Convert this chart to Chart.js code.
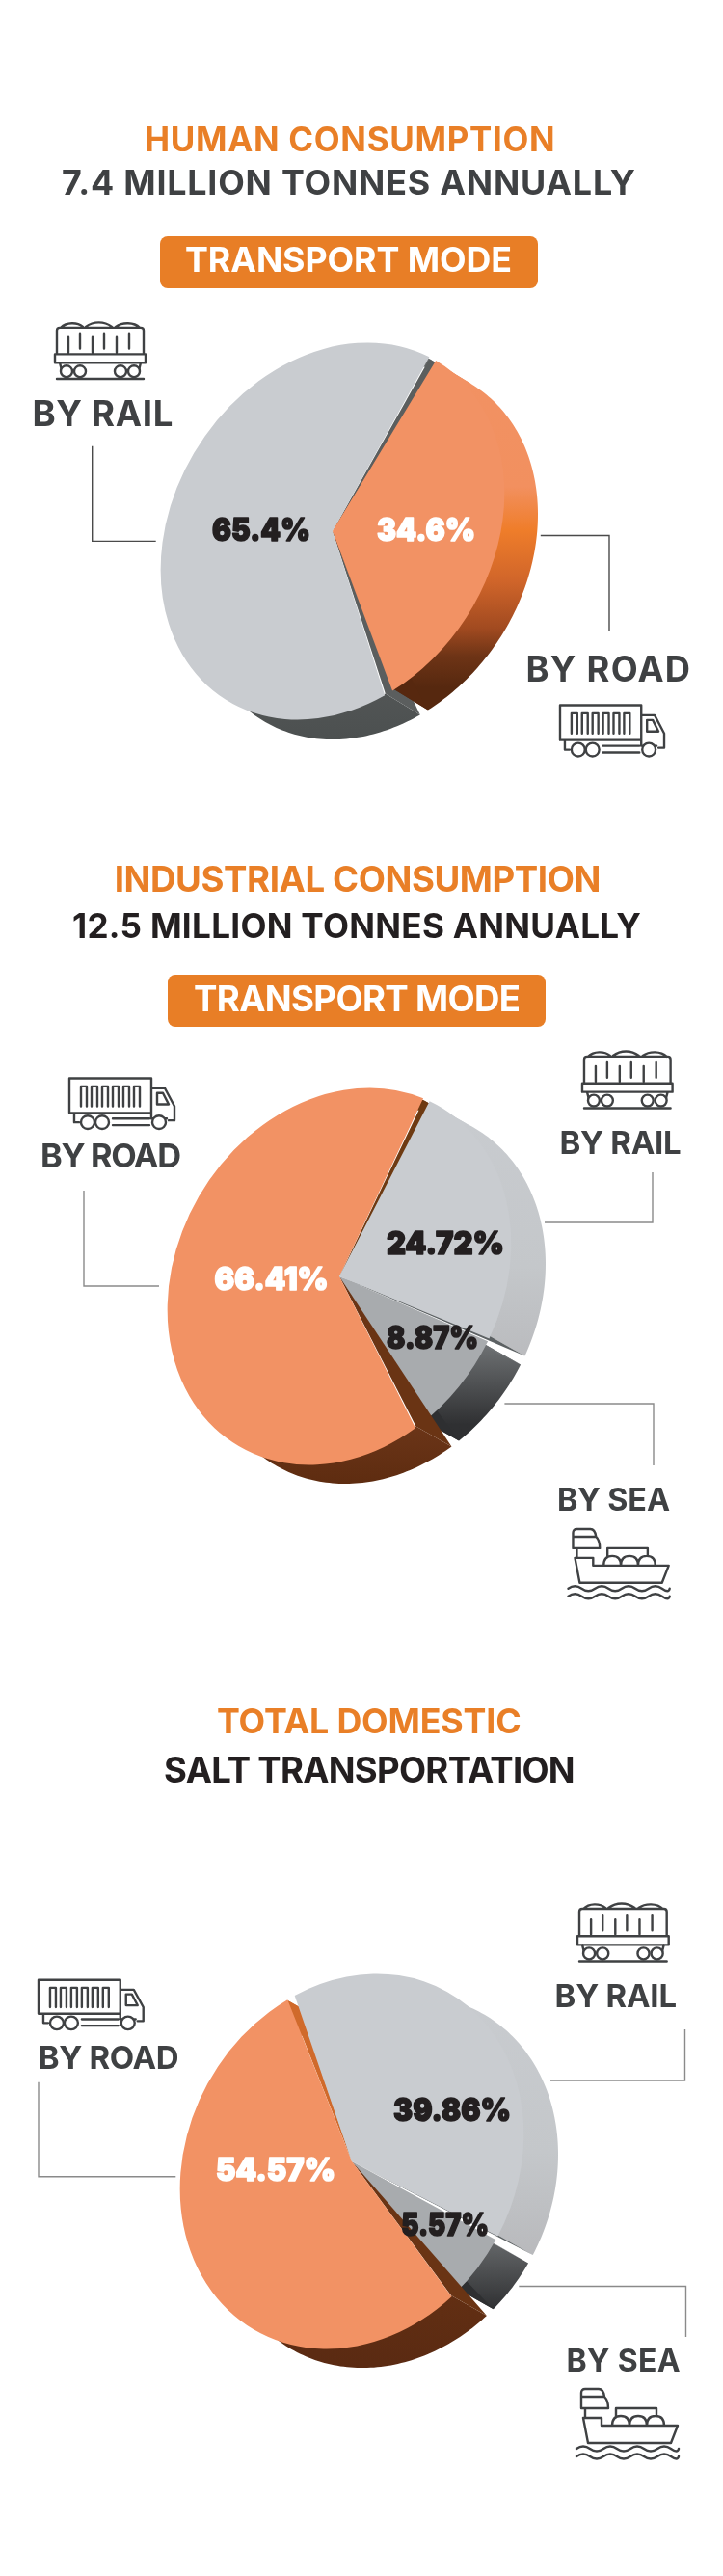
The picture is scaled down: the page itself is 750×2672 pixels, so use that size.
<!DOCTYPE html>
<html><head><meta charset="utf-8">
<script src="https://cdn.jsdelivr.net/npm/chart.js@4"></script>
<style>
html,body{margin:0;padding:0;background:#fff}
#page{position:relative;width:750px;height:2672px;overflow:hidden;background:#fff}
#page canvas{position:absolute}
#overlay{position:absolute;left:0;top:0}
</style></head><body>
<div id="page"></div>
<script>
// ---- data ----
const humanCategories = ['BY ROAD', 'BY RAIL'];
const humanValues = [34.6, 65.4];
const industrialCategories = ['BY RAIL', 'BY SEA', 'BY ROAD'];
const industrialValues = [24.72, 8.87, 66.41];
const totalCategories = ['BY RAIL', 'BY SEA', 'BY ROAD'];
const totalValues = [39.86, 5.57, 54.57];

// ---- styles ----
const ORANGE = '#e97f27', DARK = '#3f4143', INK = '#231f20';
const FACE_ORANGE = '#f29264', FACE_GREY = '#c9ccd0', FACE_SEA = '#a8abae';
const SIDE = {
  orange1: {stops: [[0,'#f29264'],[.36,'#f2905f'],[.47,'#ef7d2a'],[.6,'#d0652a'],[.72,'#a14a20'],[.79,'#6e3416'],[.87,'#56280f'],[1,'#56280f']], wedge: ['#f29264', '#57280f']},
  grey1:   {stops: [[0,'#6b6e6e'],[.8,'#565959'],[1,'#4c5050']], wedge: ['#5b5e5e', '#5b5e5e']},
  rail:    {stops: [[0,'#c9ccd0'],[.45,'#c4c7ca'],[.7,'#b9babd'],[1,'#a8a8aa']], wedge: ['#c9ccd0', '#5c6163']},
  sea:     {stops: [[0,'#6d7072'],[.65,'#6d7072'],[.85,'#2f3032'],[1,'#2e2f31']], wedge: ['#6d7072', '#2e2f31']},
  road2:   {stops: [[0,'#6e3a12'],[.85,'#6b3518'],[1,'#5e2c10']], wedge: ['#6a3414', '#6e3a12']},
  road3:   {stops: [[0,'#d06a2b'],[.55,'#d06a2b'],[.6,'#6b3414'],[1,'#5a2a12']], wedge: ['#6a3414', '#d06a2b']}
};

const pies = [
  {categories: humanCategories, values: humanValues, rotation: 36, colors: [FACE_ORANGE, FACE_GREY], sides: [SIDE.orange1, SIDE.grey1],
   order: [1, 0], cx: 344.5, cy: 551, L: [177, -39.5, 190], depth: [36, 22],
   labels: [{dx: 97, dy: -2, w: 102, fill: '#fff'}, {dx: -74, dy: -2, w: 102, fill: INK}]},
  {categories: industrialCategories, values: industrialValues, rotation: 31, colors: [FACE_GREY, FACE_SEA, FACE_ORANGE], sides: [SIDE.rail, SIDE.sea, SIDE.road2],
   order: [1, 2, 0], cx: 351.7, cy: 1323.5, L: [177, -34, 191], depth: [37, 21],
   labels: [{dx: 110, dy: -35, w: 122, fill: INK}, {dx: 96.6, dy: 63, w: 95, fill: INK}, {dx: -70.4, dy: 2, w: 118, fill: '#fff'}]},
  {categories: totalCategories, values: totalValues, rotation: -20.5, colors: [FACE_GREY, FACE_SEA, FACE_ORANGE], sides: [SIDE.rail, SIDE.sea, SIDE.road3],
   order: [1, 2, 0], cx: 365, cy: 2241.5, L: [177, -28.3, 191], depth: [37, 21],
   labels: [{dx: 104, dy: -54.5, w: 122, fill: INK}, {dx: 96.7, dy: 64.6, w: 91, fill: INK}, {dx: -79, dy: 8, w: 124, fill: '#fff'}]}
];

// Solid pie: each slice's rim is extruded, tapering to nothing at the apex
const GAP = 1.4 * Math.PI / 180;
const solidPie = {
  id: 'solidPie',
  beforeDatasetDraw(chart, args, opts) {
    const ctx = chart.ctx, meta = args.meta, p = opts.pie;
    const [l11, l21, l22] = p.L, [vx, vy] = p.depth;
    const rimAt = (el, a) => [el.x + l11 * Math.cos(a), el.y + l21 * Math.cos(a) + l22 * Math.sin(a)];
    p.order.forEach(i => {
      const el = meta.data[i], s = p.sides[i];
      const a0 = el.startAngle + GAP, a1 = el.endAngle - GAP;
      const yTop = el.y - l22 - 3, yBot = el.y + l22 + vy + 3;
      const g = ctx.createLinearGradient(0, yTop, 0, yBot);
      s.stops.forEach(st => g.addColorStop(st[0], st[1]));
      const N = Math.max(8, Math.ceil((a1 - a0) / 0.02));
      ctx.save();
      // rim band
      ctx.beginPath();
      for (let k = 0; k <= N; k++) { const q = rimAt(el, a0 + (a1 - a0) * k / N); k ? ctx.lineTo(q[0], q[1]) : ctx.moveTo(q[0], q[1]); }
      for (let k = N; k >= 0; k--) { const q = rimAt(el, a0 + (a1 - a0) * k / N); ctx.lineTo(q[0] + vx, q[1] + vy); }
      ctx.closePath(); ctx.fillStyle = g; ctx.fill();
      // radial end walls
      [[a0, s.wedge[0]], [a1, s.wedge[1]]].forEach(w => {
        const q = rimAt(el, w[0]);
        ctx.beginPath(); ctx.moveTo(el.x, el.y); ctx.lineTo(q[0], q[1]); ctx.lineTo(q[0] + vx, q[1] + vy); ctx.closePath();
        ctx.fillStyle = w[1]; ctx.fill();
      });
      // top face, drawn by the library's arc element under the view transform
      const r = el.outerRadius;
      ctx.translate(el.x, el.y);
      ctx.transform(l11 / r, l21 / r, 0, l22 / r, 0, 0);
      ctx.translate(-el.x, -el.y);
      el.draw(ctx);
      ctx.restore();
    });
    return false;
  },
  afterDatasetsDraw(chart, args, opts) {
    const ctx = chart.ctx, p = opts.pie, el0 = chart.getDatasetMeta(0).data[0];
    ctx.save();
    ctx.textAlign = 'center'; ctx.textBaseline = 'alphabetic';
    ctx.font = '900 33px Inter';
    ctx.lineWidth = 1.6; ctx.lineJoin = 'round';
    p.values.forEach((v, i) => {
      const l = p.labels[i];
      ctx.fillStyle = l.fill; ctx.strokeStyle = l.fill;
      ctx.strokeText(v + '%', el0.x + l.dx, el0.y + l.dy + 12, l.w);
      ctx.fillText(v + '%', el0.x + l.dx, el0.y + l.dy + 12, l.w);
    });
    ctx.restore();
  }
};

const page = document.getElementById('page');
const CANVAS = 520;
pies.forEach(p => {
  const c = document.createElement('canvas');
  c.width = CANVAS; c.height = CANVAS;
  c.style.cssText = `left:${p.cx - CANVAS / 2}px;top:${p.cy - CANVAS / 2}px;width:${CANVAS}px;height:${CANVAS}px`;
  page.appendChild(c);
  new Chart(c, {
    type: 'pie',
    data: {labels: p.categories, datasets: [{data: p.values, backgroundColor: p.colors, borderWidth: 0, spacing: 3}]},
    options: {
      responsive: false, animation: false, rotation: p.rotation,
      layout: {padding: 60},
      plugins: {legend: {display: false}, tooltip: {enabled: false}, solidPie: {pie: p}}
    },
    plugins: [solidPie]
  });
});

// ---- overlay: headings, captions, leaders, icons ----
const NS = 'http://www.w3.org/2000/svg';
const svg = document.createElementNS(NS, 'svg');
svg.id = 'overlay';
svg.setAttribute('width', 750); svg.setAttribute('height', 2672);
svg.setAttribute('viewBox', '0 0 750 2672');
page.appendChild(svg);
const make = (tag, attrs, parent) => { const e = document.createElementNS(NS, tag); for (const k in attrs) e.setAttribute(k, attrs[k]); (parent || svg).appendChild(e); return e; };

// badges: x0, x1, y0, y1
[[166, 558, 245, 299], [174, 566, 1011, 1065]].forEach(b =>
  make('rect', {x: b[0], y: b[2], width: b[1] - b[0], height: b[3] - b[2], rx: 8, fill: '#e87e26'}));

// text, x0, x1, capTop, baseline, colour
const texts = [
  ['HUMAN CONSUMPTION', 150, 575.6, 132, 157.4, ORANGE],
  ['7.4 MILLION TONNES ANNUALLY', 64, 659, 176, 202, DARK],
  ['TRANSPORT MODE', 192, 531, 256, 282, '#fff'],
  ['BY RAIL', 33.5, 179.4, 415.4, 442, DARK],
  ['BY ROAD', 545.5, 716, 681, 707.4, DARK],
  ['INDUSTRIAL CONSUMPTION', 118.7, 623.4, 898.4, 925, ORANGE],
  ['12.5 MILLION TONNES ANNUALLY', 75, 665, 947.5, 973, INK],
  ['TRANSPORT MODE', 201, 540, 1022.4, 1049, '#fff'],
  ['BY ROAD', 42, 188, 1186, 1211, DARK],
  ['BY RAIL', 580.4, 706.7, 1173, 1197, DARK],
  ['BY SEA', 578, 695, 1543.5, 1567, DARK],
  ['TOTAL DOMESTIC', 225, 540.7, 1772, 1798, ORANGE],
  ['SALT TRANSPORTATION', 170, 596.7, 1822, 1848.5, INK],
  ['BY RAIL', 575.6, 702, 2057.6, 2081.5, DARK],
  ['BY ROAD', 39.7, 185.6, 2122, 2146, DARK],
  ['BY SEA', 587.6, 705.7, 2436.7, 2460, DARK]
];
texts.forEach(t => {
  const e = make('text', {x: t[1], y: t[4], 'font-family': 'Inter', 'font-weight': 700, 'font-size': ((t[4] - t[3]) / 0.727).toFixed(1),
    textLength: (t[2] - t[1]).toFixed(1), lengthAdjust: 'spacing', fill: t[5]});
  e.textContent = t[0];
});

// leader polylines
const leaders = [
  ['95.7,462.7 95.7,561.4 161.7,561.4', '#4a4a4a'],
  ['560.8,555.5 632,555.5 632,654.6', '#4a4a4a'],
  ['87,1235 87,1334 165,1334', '#8a8a8a'],
  ['677,1216 677,1268 565,1268', '#8a8a8a'],
  ['523.4,1456 678,1456 678,1520', '#8a8a8a'],
  ['710.5,2105 710.5,2158 571,2158', '#8a8a8a'],
  ['40,2159.8 40,2257.7 182.3,2257.7', '#8a8a8a'],
  ['538.3,2371.5 711.5,2371.5 711.5,2424', '#8a8a8a']
];
leaders.forEach(l => make('polyline', {points: l[0], fill: 'none', stroke: l[1], 'stroke-width': 1.4}));

// icons
const ICONS = {
  train: {w: 96, h: 66, d: 'M7 10C13 4 24 4 30 9M33 9C41 3 52 3 60 9M64 9C71 4 83 4 89 10M3 38V13Q3 10 6 10H90Q93 10 93 13V38M15 20V36M27 16V32M40 20V36M52 16V32M65 20V36M78 16V32M1 38H95V47H1ZM6 47L8 55M90 47L88 55M3 64H93',
    circles: [[13,56,6],[27,56,6],[69,56,6],[83,56,6]]},
  truck: {w: 112, h: 56, d: 'M1 38V1.5H86V38M13 31V10H19V31M24 31V10H30V31M35 31V10H41V31M46 31V10H52V31M57 31V10H63V31M68 31V10H74V31M1 38H86M86 12H100L110 31V46H104M92 17H98L104 29H92ZM86 38V44H102M46 44H84M46 51H84M6 38V48H11',
    circles: [[20,48,7],[35,48,7],[94,48,7]]},
  ship: {w: 107, h: 74, d: 'M10 2H24Q29 2 30 10H6V6Q6 2 10 2ZM6 10V22H34Q34 14 30 10M10 22V32H27M8 32H27V40H106L99 58M8 32L13 58H99M42 30V22H84V30M38 40Q38 30 47 30Q56 30 56 40M56 40Q56 30 65 30Q74 30 74 40M74 40Q74 30 83 30Q92 30 92 40M1 64Q8 59 15 64T29 64T43 64T57 64T71 64T85 64T99 64T107 64M1 72Q8 67 15 72T29 72T43 72T57 72T71 72T85 72T99 72T107 72',
    circles: []}
};
// icon name, x0, x1, y0, y1
const iconPlacements = [
  ['train', 56, 152, 330, 395], ['truck', 580, 691, 730, 785.5],
  ['truck', 71, 183, 1117, 1172], ['train', 603, 698.6, 1086, 1151.5], ['ship', 588.5, 694.7, 1584, 1657.7],
  ['train', 598, 694.7, 1970, 2036.5], ['truck', 39, 150.7, 2052.3, 2106], ['ship', 597, 704, 2476, 2550]
];
iconPlacements.forEach(ip => {
  const ic = ICONS[ip[0]];
  const g = make('g', {transform: `translate(${ip[1]} ${ip[3]}) scale(${(ip[2] - ip[1]) / ic.w} ${(ip[4] - ip[3]) / ic.h})`,
    fill: 'none', stroke: DARK, 'stroke-width': 2.4, 'stroke-linecap': 'round', 'stroke-linejoin': 'round'});
  make('path', {d: ic.d}, g);
  ic.circles.forEach(c => make('circle', {cx: c[0], cy: c[1], r: c[2], fill: '#fff'}, g));
});
</script>
</body></html>
